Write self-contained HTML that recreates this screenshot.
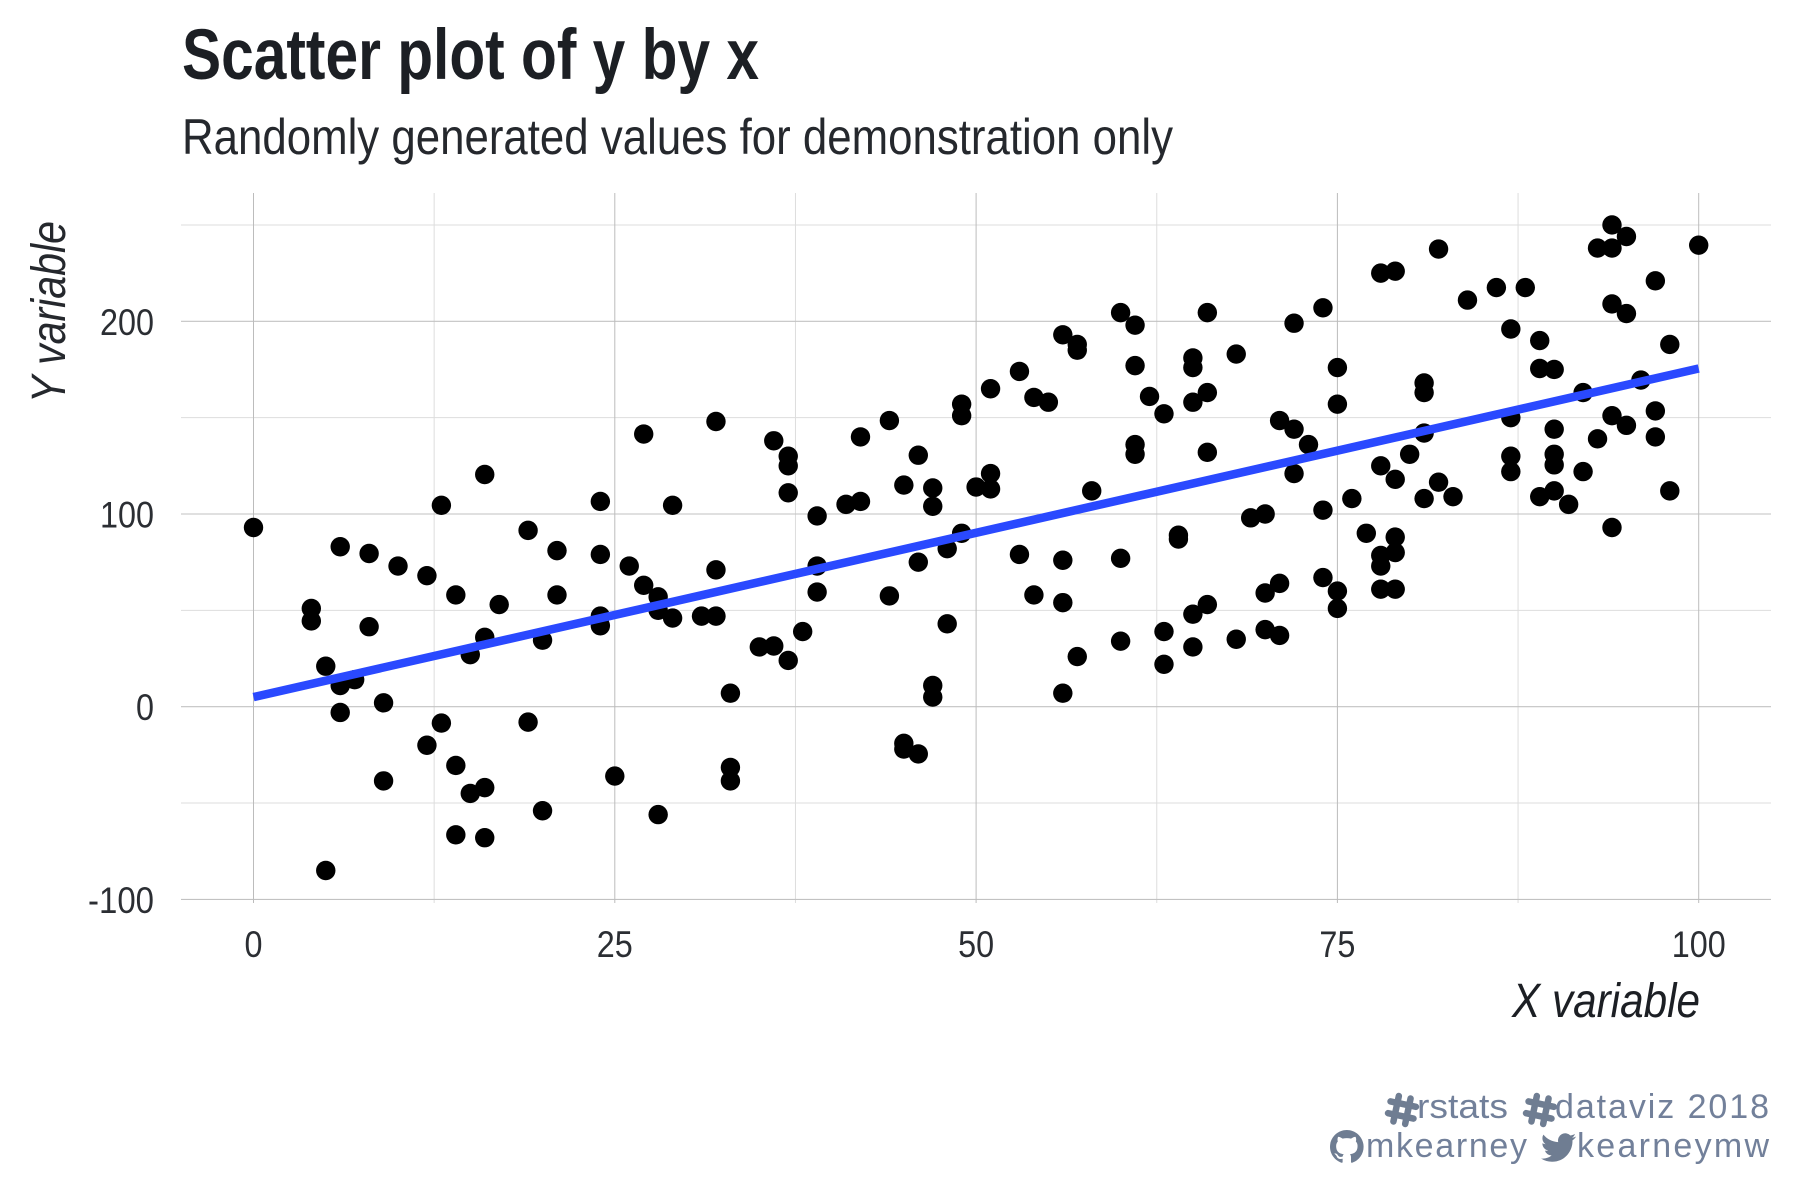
<!DOCTYPE html>
<html lang="en">
<head>
<meta charset="utf-8">
<title>Scatter plot of y by x</title>
<style>
  html, body { margin: 0; padding: 0; background: #ffffff; }
  svg { display: block; font-family: "Liberation Sans", sans-serif; }
</style>
</head>
<body>
<svg id="chart" xmlns="http://www.w3.org/2000/svg" width="1800" height="1200" viewBox="0 0 1800 1200">
  <rect width="1800" height="1200" fill="#ffffff"/>
  <text x="182" y="79" font-size="71" font-weight="700" fill="#1c1f24" textLength="577" lengthAdjust="spacingAndGlyphs">Scatter plot of y by x</text>
  <text x="182" y="154" font-size="50" fill="#25282d" textLength="991" lengthAdjust="spacingAndGlyphs">Randomly generated values for demonstration only</text>
  <g id="grid"></g>
  <g id="x-ticks"></g>
  <g id="y-ticks"></g>
  <g id="points"></g>
  <line id="trend" stroke="#2a49ff" stroke-width="8.5"/>
  <text x="65" y="403" transform="rotate(-90 65 403)" font-size="48" font-style="italic" fill="#25282d" textLength="182" lengthAdjust="spacingAndGlyphs">Y variable</text>
  <text x="1512" y="1017" font-size="48" font-style="italic" fill="#1c1f24" textLength="188" lengthAdjust="spacingAndGlyphs">X variable</text>

  <g fill="#72809a" font-size="34">
    <g transform="translate(1402 1110) rotate(12)" stroke="#6f7d92" stroke-width="6.5" stroke-linecap="round">
      <line x1="-6" y1="-13" x2="-6" y2="13"/><line x1="6" y1="-13" x2="6" y2="13"/>
      <line x1="-13" y1="-6" x2="13" y2="-6"/><line x1="-13" y1="6" x2="13" y2="6"/>
    </g>
    <text x="1417" y="1118" textLength="91" lengthAdjust="spacingAndGlyphs">rstats</text>
    <g transform="translate(1540 1110) rotate(12)" stroke="#6f7d92" stroke-width="6.5" stroke-linecap="round">
      <line x1="-6" y1="-13" x2="-6" y2="13"/><line x1="6" y1="-13" x2="6" y2="13"/>
      <line x1="-13" y1="-6" x2="13" y2="-6"/><line x1="-13" y1="6" x2="13" y2="6"/>
    </g>
    <text x="1555" y="1118" textLength="214" lengthAdjust="spacing">dataviz 2018</text>
    <path fill="#6f7d92" transform="translate(1330 1130) scale(2.1)" d="M8 0C3.58 0 0 3.58 0 8c0 3.54 2.29 6.53 5.47 7.59.4.07.55-.17.55-.38 0-.19-.01-.82-.01-1.49-2.01.37-2.53-.49-2.69-.94-.09-.23-.48-.94-.82-1.13-.28-.15-.68-.52-.01-.53.63-.01 1.08.58 1.23.82.72 1.21 1.87.87 2.33.66.07-.52.28-.87.51-1.07-1.78-.2-3.64-.89-3.64-3.95 0-.87.31-1.59.82-2.15-.08-.2-.36-1.02.08-2.12 0 0 .67-.21 2.2.82.64-.18 1.32-.27 2-.27.68 0 1.36.09 2 .27 1.53-1.04 2.2-.82 2.2-.82.44 1.1.16 1.92.08 2.12.51.56.82 1.27.82 2.15 0 3.07-1.87 3.75-3.65 3.95.29.25.54.73.54 1.48 0 1.07-.01 1.93-.01 2.2 0 .21.15.46.55.38A8.013 8.013 0 0 0 16 8c0-4.42-3.58-8-8-8z"/>
    <text x="1366" y="1157" textLength="161" lengthAdjust="spacing">mkearney</text>
    <path fill="#6f7d92" transform="translate(1541 1130) scale(1.46)" d="M23.953 4.57a10 10 0 01-2.825.775 4.958 4.958 0 002.163-2.723c-.951.555-2.005.959-3.127 1.184a4.92 4.92 0 00-8.384 4.482C7.69 8.095 4.067 6.13 1.64 3.162a4.822 4.822 0 00-.666 2.475c0 1.71.87 3.213 2.188 4.096a4.904 4.904 0 01-2.228-.616v.06a4.923 4.923 0 003.946 4.827 4.996 4.996 0 01-2.212.085 4.936 4.936 0 004.604 3.417 9.867 9.867 0 01-6.102 2.105c-.39 0-.779-.023-1.17-.067a13.995 13.995 0 007.557 2.209c9.053 0 13.998-7.496 13.998-13.985 0-.21 0-.42-.015-.63A9.935 9.935 0 0024 4.59z"/>
    <text x="1577" y="1157" textLength="192" lengthAdjust="spacing">kearneymw</text>
  </g>
</svg>
<script>
const pointX = [
  0, 4,4, 5,5, 6,6,6, 7, 8,8, 9,9, 10, 12,12, 13,13, 14,14,14, 15,15, 16,16,16,16, 17, 19,19,
  20,20, 21,21, 24,24,24,24, 25, 26, 27,27, 28,28,28, 29,29, 31, 32,32,32, 33,33,33, 35, 36,36,
  37,37,37,37, 38, 39,39,39, 41, 42,42, 44,44, 45,45,45, 46,46,46, 47,47,47,47, 48,48, 49,49,49,
  50, 51,51,51, 53,53, 54,54, 55, 56,56,56,56, 57,57,57, 58, 60,60,60, 61,61,61,61, 62, 63,63,63,
  64,64, 65,65,65,65,65, 66,66,66,66, 68,68, 69, 70,70,70, 71,71,71, 72,72,72, 73, 74,74,74,
  75,75,75,75, 76, 77, 78,78,78,78,78, 79,79,79,79,79, 80, 81,81,81,81, 82,82, 83, 84, 86,
  87,87,87,87, 88, 89,89,89, 90,90,90,90,90, 91, 92,92, 93,93, 94,94,94,94,94, 95,95,95, 96,
  97,97,97, 98,98, 100
];
const pointY = [
  93, 51,44.5, 21,-85, 83,11,-3, 14, 79.5,41.5, 2,-38.5, 73, 68,-20, 104.5,-8.5, 58,-30.5,-66.5, 27,-45, 120.5,36,-42,-68, 53, 91.5,-8,
  34.5,-54, 81,58, 106.5,79,47,42, -36, 73, 141.5,63, 57,50,-56, 104.5,46, 47, 148,71,47, 7,-31.5,-38.5, 31, 138,31.5,
  130,125,111,24, 39, 99,73,59.5, 105, 140,106.5, 148.5,57.5, 115,-19,-22, 130.5,75,-24.5, 113.5,104,11,5, 82,43, 157,151,90,
  114, 165,121,113, 174,79, 160.5,58, 158, 193,76,54,7, 188,185,26, 112, 204.5,77,34, 198,177,136,131, 161, 152,39,22,
  89,87, 181,176,158,48,31, 204.5,163,132,53, 183,35, 98, 100,59,40, 148.5,64,37, 199,144,121, 136, 207,102,67,
  176,157,60,51, 108, 90, 225,125,78.5,73,61, 226,118,88,80,61, 131, 168,163,142,108, 237.5,116.5, 109, 211, 217.5,
  196,150,130,122, 217.5, 190,175.5,109, 175,144,131,125.5,112, 105, 163,122, 238,139, 250,238,209,151,93, 244,204,146, 169.5,
  221,153.5,140, 188,112, 239.5
];
const trendX = [0, 100];
const trendY = [5, 175.5];
const xMajorTicks = [0, 25, 50, 75, 100];
const xMinorTicks = [12.5, 37.5, 62.5, 87.5];
const yMajorTicks = [-100, 0, 100, 200];
const yMinorTicks = [-50, 50, 150, 250];

const SVG_NS = 'http://www.w3.org/2000/svg';
const panel = { left: 181, right: 1771, top: 193, bottom: 903 };
function xScale(v) { return 253.5 + v * 14.452; }
function yScale(v) { return 706.7 - v * 1.927; }

const gridGroup = document.getElementById('grid');
function addGridLine(x1, y1, x2, y2, color, width, name) {
  const el = document.createElementNS(SVG_NS, 'line');
  el.setAttribute('x1', x1);
  el.setAttribute('y1', y1);
  el.setAttribute('x2', x2);
  el.setAttribute('y2', y2);
  el.setAttribute('stroke', color);
  el.setAttribute('stroke-width', width);
  
  
  gridGroup.appendChild(el);
}
yMinorTicks.forEach(function (t) {
  addGridLine(panel.left, yScale(t), panel.right, yScale(t), '#dddddd', 1, 'y-minor-gridline');
});
xMinorTicks.forEach(function (t) {
  addGridLine(xScale(t), panel.top, xScale(t), panel.bottom, '#dddddd', 1, 'x-minor-gridline');
});
yMajorTicks.forEach(function (t) {
  addGridLine(panel.left, yScale(t), panel.right, yScale(t), '#c2c2c2', 1.1, 'y-major-gridline');
});
xMajorTicks.forEach(function (t) {
  addGridLine(xScale(t), panel.top, xScale(t), panel.bottom, '#bcbcbc', 1, 'x-major-gridline');
});

function labelWidth(label) {
  const digits = label.replace('-', '').length;
  return digits * 18 + (label.indexOf('-') === 0 ? 12 : 0);
}
const xTickGroup = document.getElementById('x-ticks');
xMajorTicks.forEach(function (t) {
  const label = String(t);
  const el = document.createElementNS(SVG_NS, 'text');
  el.setAttribute('x', xScale(t));
  el.setAttribute('y', 957);
  el.setAttribute('text-anchor', 'middle');
  el.setAttribute('font-size', '37');
  el.setAttribute('fill', '#2b2e33');
  el.setAttribute('textLength', labelWidth(label));
  el.setAttribute('lengthAdjust', 'spacingAndGlyphs');
  
  
  el.textContent = label;
  xTickGroup.appendChild(el);
});
const yTickGroup = document.getElementById('y-ticks');
yMajorTicks.forEach(function (t) {
  const label = String(t);
  const el = document.createElementNS(SVG_NS, 'text');
  el.setAttribute('x', 154);
  el.setAttribute('y', yScale(t) + 13.5);
  el.setAttribute('text-anchor', 'end');
  el.setAttribute('font-size', '37');
  el.setAttribute('fill', '#2b2e33');
  el.setAttribute('textLength', labelWidth(label));
  el.setAttribute('lengthAdjust', 'spacingAndGlyphs');
  
  
  el.textContent = label;
  yTickGroup.appendChild(el);
});

const pointGroup = document.getElementById('points');
pointX.forEach(function (xv, i) {
  const el = document.createElementNS(SVG_NS, 'circle');
  el.setAttribute('cx', xScale(xv));
  el.setAttribute('cy', yScale(pointY[i]));
  el.setAttribute('r', 9.7);
  el.setAttribute('fill', '#000000');
  
  
  pointGroup.appendChild(el);
});

const trend = document.getElementById('trend');
trend.setAttribute('x1', xScale(trendX[0]));
trend.setAttribute('y1', yScale(trendY[0]));
trend.setAttribute('x2', xScale(trendX[1]));
trend.setAttribute('y2', yScale(trendY[1]));
</script>
</body>
</html>
